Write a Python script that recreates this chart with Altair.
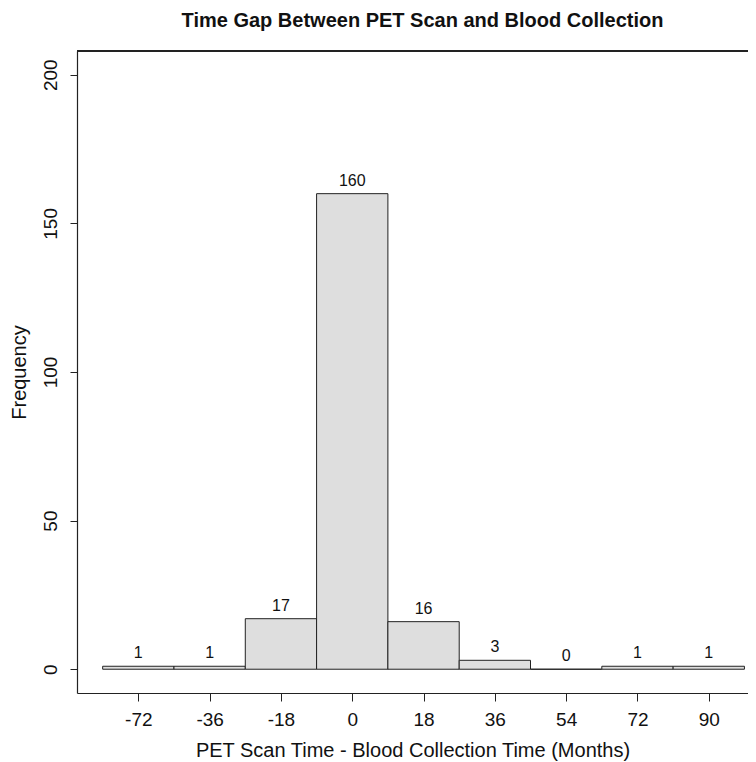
import altair as alt
import pandas as pd

labels = ["-72", "-36", "-18", "0", "18", "36", "54", "72", "90"]
counts = [1, 1, 17, 160, 16, 3, 0, 1, 1]
y_ticks = [0, 50, 100, 150, 200]

df = pd.DataFrame({
    "lab": labels,
    "count": counts,
    "left": list(range(len(labels))),
    "right": [i + 1 for i in range(len(labels))],
    "mid": [i + 0.5 for i in range(len(labels))],
})

W, H = 671, 642
FONT = "Liberation Sans"

xscale = alt.Scale(domain=[-0.36, 9.05], nice=False, zero=False)
yscale = alt.Scale(domain=[-8, 208], nice=False, zero=False)

label_expr = "[" + ",".join("'%s'" % l for l in labels) + "][floor(datum.value)]"

bars = alt.Chart(df).mark_rect(fill="#DEDEDE", stroke="#222222", strokeWidth=1).encode(
    x=alt.X("left:Q", scale=xscale,
            axis=alt.Axis(values=[i + 0.5 for i in range(len(labels))], labelExpr=label_expr,
                          title="PET Scan Time - Blood Collection Time (Months)",
                          grid=False, tickSize=8, labelPadding=9, titlePadding=11,
                          domainColor="#222222", tickColor="#222222", domainWidth=1.2)),
    x2="right:Q",
    y=alt.Y("count:Q", scale=yscale,
            axis=alt.Axis(values=y_ticks, title="Frequency", grid=False, tickSize=7,
                          labelAngle=-90, labelAlign="center", labelBaseline="bottom",
                          labelPadding=10, titlePadding=12,
                          domainColor="#222222", tickColor="#222222", domainWidth=1.2)),
    y2=alt.datum(0),
)

text = alt.Chart(df).mark_text(baseline="bottom", dy=-5, fontSize=16, font=FONT, color="#111111").encode(
    x=alt.X("mid:Q", scale=xscale),
    y=alt.Y("count:Q", scale=yscale),
    text="count:Q",
)

top = alt.Chart(df).mark_rule(color="#222222", strokeWidth=1.2).encode(
    x=alt.value(0), x2=alt.value(W), y=alt.value(0)
)

chart = alt.layer(bars, text, top).properties(
    width=W, height=H,
    title=alt.TitleParams("Time Gap Between PET Scan and Blood Collection",
                          fontSize=20, fontWeight="bold", font=FONT, color="#111111",
                          anchor="middle", dx=10, offset=19),
    autosize=alt.AutoSizeParams(type="none"),
    padding={"left": 69, "top": 43, "right": 0, "bottom": 68},
).configure_view(stroke=None).configure_axis(
    labelFont=FONT, titleFont=FONT, labelFontSize=19, titleFontSize=20,
    labelColor="#111111", titleColor="#111111", titleFontWeight="normal",
)

chart.save("out.html", embed_options={"renderer": "svg", "actions": False})
